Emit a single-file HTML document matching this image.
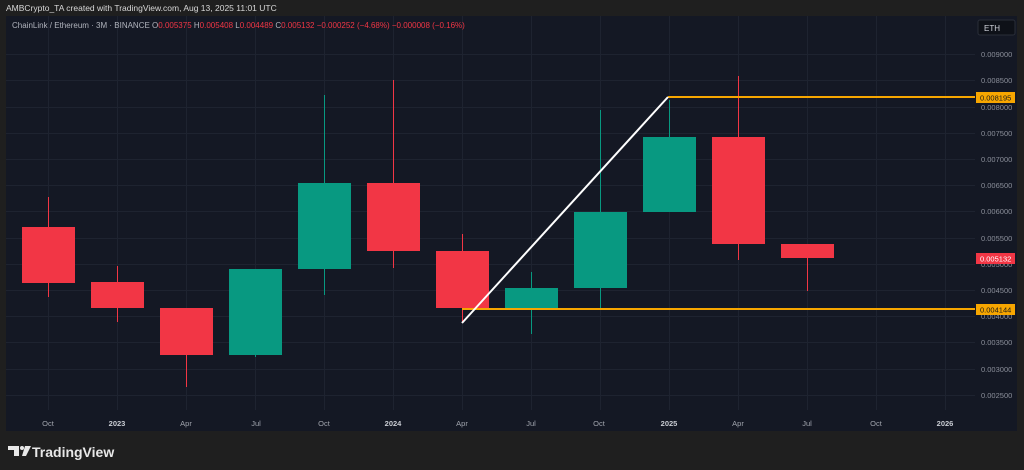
<!DOCTYPE html>
<html><head><meta charset="utf-8"><style>
html,body{margin:0;padding:0;background:#1f1f1f;width:1024px;height:470px;overflow:hidden}
svg{display:block;font-family:"Liberation Sans",sans-serif}
</style></head><body>
<svg width="1024" height="470" xmlns="http://www.w3.org/2000/svg">
<rect width="1024" height="470" fill="#1f1f1f"/>
<text x="6" y="11" font-size="8.5" fill="#d8d8d8">AMBCrypto_TA created with TradingView.com, Aug 13, 2025 11:01 UTC</text>
<rect x="6" y="16" width="1011" height="415" fill="#141824"/>
<g stroke="#1e2330" stroke-width="1">
<line x1="6" y1="54.5" x2="975" y2="54.5"/><line x1="6" y1="80.5" x2="975" y2="80.5"/><line x1="6" y1="107.5" x2="975" y2="107.5"/><line x1="6" y1="133.5" x2="975" y2="133.5"/><line x1="6" y1="159.5" x2="975" y2="159.5"/><line x1="6" y1="185.5" x2="975" y2="185.5"/><line x1="6" y1="211.5" x2="975" y2="211.5"/><line x1="6" y1="238.5" x2="975" y2="238.5"/><line x1="6" y1="264.5" x2="975" y2="264.5"/><line x1="6" y1="290.5" x2="975" y2="290.5"/><line x1="6" y1="316.5" x2="975" y2="316.5"/><line x1="6" y1="342.5" x2="975" y2="342.5"/><line x1="6" y1="369.5" x2="975" y2="369.5"/><line x1="6" y1="395.5" x2="975" y2="395.5"/>
<line x1="48.5" y1="16" x2="48.5" y2="410"/><line x1="117.5" y1="16" x2="117.5" y2="410"/><line x1="186.5" y1="16" x2="186.5" y2="410"/><line x1="255.5" y1="16" x2="255.5" y2="410"/><line x1="324.5" y1="16" x2="324.5" y2="410"/><line x1="393.5" y1="16" x2="393.5" y2="410"/><line x1="462.5" y1="16" x2="462.5" y2="410"/><line x1="531.5" y1="16" x2="531.5" y2="410"/><line x1="600.5" y1="16" x2="600.5" y2="410"/><line x1="669.5" y1="16" x2="669.5" y2="410"/><line x1="738.5" y1="16" x2="738.5" y2="410"/><line x1="807.5" y1="16" x2="807.5" y2="410"/><line x1="876.5" y1="16" x2="876.5" y2="410"/><line x1="945.5" y1="16" x2="945.5" y2="410"/>
</g>
<text x="12" y="28" font-size="8" fill="#b0b3bc">ChainLink / Ethereum · 3M · BINANCE <tspan fill="#b0b3bc">O</tspan><tspan fill="#f23645">0.005375</tspan> <tspan fill="#b0b3bc">H</tspan><tspan fill="#f23645">0.005408</tspan> <tspan fill="#b0b3bc">L</tspan><tspan fill="#f23645">0.004489</tspan> <tspan fill="#b0b3bc">C</tspan><tspan fill="#f23645">0.005132  −0.000252 (−4.68%)  −0.000008 (−0.16%)</tspan></text>
<g stroke-width="1">
<line x1="48.5" y1="197" x2="48.5" y2="297" stroke="#f23645"/><rect x="22" y="227" width="53" height="56" fill="#f23645"/>
<line x1="117.5" y1="266" x2="117.5" y2="322" stroke="#f23645"/><rect x="91" y="282" width="53" height="26" fill="#f23645"/>
<line x1="186.5" y1="308" x2="186.5" y2="387" stroke="#f23645"/><rect x="160" y="308" width="53" height="47" fill="#f23645"/>
<line x1="255.5" y1="269" x2="255.5" y2="357" stroke="#089981"/><rect x="229" y="269" width="53" height="86" fill="#089981"/>
<line x1="324.5" y1="95" x2="324.5" y2="295" stroke="#089981"/><rect x="298" y="183" width="53" height="86" fill="#089981"/>
<line x1="393.5" y1="80" x2="393.5" y2="268" stroke="#f23645"/><rect x="367" y="183" width="53" height="68" fill="#f23645"/>
<line x1="462.5" y1="234" x2="462.5" y2="323" stroke="#f23645"/><rect x="436" y="251" width="53" height="57" fill="#f23645"/>
<line x1="531.5" y1="272" x2="531.5" y2="334" stroke="#089981"/><rect x="505" y="288" width="53" height="20" fill="#089981"/>
<line x1="600.5" y1="110" x2="600.5" y2="308" stroke="#089981"/><rect x="574" y="212" width="53" height="76" fill="#089981"/>
<line x1="669.5" y1="100" x2="669.5" y2="212" stroke="#089981"/><rect x="643" y="137" width="53" height="75" fill="#089981"/>
<line x1="738.5" y1="76" x2="738.5" y2="260" stroke="#f23645"/><rect x="712" y="137" width="53" height="107" fill="#f23645"/>
<line x1="807.5" y1="244" x2="807.5" y2="291" stroke="#f23645"/><rect x="781" y="244" width="53" height="14" fill="#f23645"/>
</g>
<line x1="668" y1="97" x2="975" y2="97" stroke="#f7a600" stroke-width="2"/>
<line x1="462" y1="309" x2="975" y2="309" stroke="#f7a600" stroke-width="2"/>
<line x1="462" y1="323" x2="668" y2="97" stroke="#ffffff" stroke-width="2"/>
<g font-size="7.5" fill="#8a8e99">
<text x="981" y="57">0.009000</text><text x="981" y="83">0.008500</text><text x="981" y="110">0.008000</text><text x="981" y="136">0.007500</text><text x="981" y="162">0.007000</text><text x="981" y="188">0.006500</text><text x="981" y="214">0.006000</text><text x="981" y="241">0.005500</text><text x="981" y="267">0.005000</text><text x="981" y="293">0.004500</text><text x="981" y="319">0.004000</text><text x="981" y="345">0.003500</text><text x="981" y="372">0.003000</text><text x="981" y="398">0.002500</text>
</g>
<rect x="978" y="20" width="37" height="15" rx="2" fill="#0e1118" stroke="#2a2e39"/>
<text x="984" y="31" font-size="8" fill="#d1d4dc">ETH</text>
<rect x="976" y="92" width="39" height="11" fill="#f7a600"/><text x="980" y="100.5" font-size="7.5" fill="#1a1a1a">0.008195</text>
<rect x="976" y="253" width="39" height="11" fill="#f23645"/><text x="980" y="261.5" font-size="7.5" fill="#ffffff">0.005132</text>
<rect x="976" y="304" width="39" height="11" fill="#f7a600"/><text x="980" y="312.5" font-size="7.5" fill="#1a1a1a">0.004144</text>
<g font-size="7.5" fill="#a0a4ad" text-anchor="middle">
<text x="48" y="426">Oct</text><text x="117" y="426" font-weight="bold" fill="#c8cbd2">2023</text><text x="186" y="426">Apr</text><text x="256" y="426">Jul</text><text x="324" y="426">Oct</text><text x="393" y="426" font-weight="bold" fill="#c8cbd2">2024</text><text x="462" y="426">Apr</text><text x="531" y="426">Jul</text><text x="599" y="426">Oct</text><text x="669" y="426" font-weight="bold" fill="#c8cbd2">2025</text><text x="738" y="426">Apr</text><text x="807" y="426">Jul</text><text x="876" y="426">Oct</text><text x="945" y="426" font-weight="bold" fill="#c8cbd2">2026</text>
</g>
<g fill="#e8e8e8">
<path d="M8 446h11v10h-5v-6h-6z"/><circle cx="22" cy="448" r="2"/><path d="M25 446h6l-5 10h-4z"/>
</g>
<text x="32" y="457" font-size="14" font-weight="bold" fill="#e8e8e8">TradingView</text>
</svg>
</body></html>
